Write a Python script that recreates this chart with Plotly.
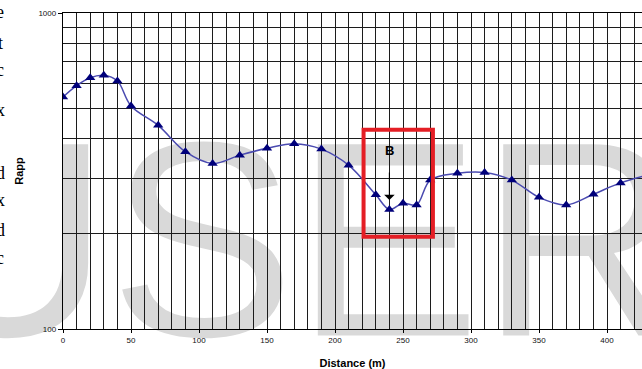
import math
import plotly.graph_objects as go

# ---- data ----
distance = [0, 10, 20, 30, 40, 50, 70, 90, 110, 130, 150, 170, 190, 210, 230, 240,
            250, 260, 270, 290, 310, 330, 350, 370, 390, 410, 430]
rapp = [542, 589, 624, 635, 609, 508, 441, 364, 334, 355, 373, 386, 371, 330, 266, 239,
        250, 247, 296, 311, 313, 296, 261, 247, 267, 290, 307]

x_tick_vals = [0, 50, 100, 150, 200, 250, 300, 350, 400]
y_tick_vals = [100, 1000]
y_tick_text = ["100", "1000"]
y_minor_vals = [200, 300, 400, 500, 600, 700, 800, 900]

# highlight box and marker "B"
box_x = [221, 272]
box_y = [196, 427]
label_b = "B"
label_b_pos = (240, 366)
arrow_to = (240, 256)

watermark_text = "USER"
side_letters = ["e", "t", "c", "x", "d", "x", "d", "c"]
side_letter_y = [12, 43, 70, 110, 173, 200, 230, 258]

W, H = 642, 369
ML, MR, MT, MB = 63, 0, 13, 40
PW, PH = W - ML - MR, H - MT - MB

GRID = "#1c1c1c"

fig = go.Figure()

# watermark (subplot drawn first so the chart grid is above it)
fig.add_trace(go.Scatter(
    x=[295], y=[266], mode="text", text=[watermark_text],
    textposition="middle center",
    textfont=dict(family="Liberation Sans, Arial", size=278, color="#d9d9d9"),
    cliponaxis=False, hoverinfo="skip", showlegend=False,
    xaxis="x", yaxis="y"))

# main data
fig.add_trace(go.Scatter(
    x=distance, y=rapp, mode="lines+markers",
    line=dict(color="#4a4ab0", width=1.5, shape="spline", smoothing=1),
    marker=dict(symbol="triangle-up", size=9, color="#00007a"),
    cliponaxis=True, showlegend=False, xaxis="x2", yaxis="y2"))

fig.update_layout(
    width=W, height=H,
    margin=dict(l=ML, r=MR, t=MT, b=MB),
    paper_bgcolor="white", plot_bgcolor="rgba(0,0,0,0)",
    showlegend=False,
    xaxis=dict(domain=[0, 1], range=[ML, W - MR], visible=False, fixedrange=True),
    yaxis=dict(domain=[0, 1], range=[MT + PH, MT], visible=False, fixedrange=True),
    xaxis2=dict(
        domain=[0, 1], anchor="y2", range=[0, (W - ML) / 1.36],
        tickvals=x_tick_vals, showgrid=True, gridcolor=GRID, gridwidth=1.4,
        minor=dict(dtick=10, tick0=0, showgrid=True, gridcolor=GRID, gridwidth=1.4, ticks=""),
        showline=True, linecolor="black", linewidth=1.4, mirror=True,
        ticks="outside", ticklen=3, tickcolor="black",
        tickfont=dict(family="Liberation Sans, Arial", size=8, color="#111"),
        zeroline=False,
        title=dict(text="Distance (m)", standoff=15,
                   font=dict(family="Liberation Sans, Arial", size=11, color="black", weight="bold")),
    ),
    yaxis2=dict(
        domain=[0, 1], anchor="x2", type="log", range=[2, 3],
        tickvals=y_tick_vals, ticktext=y_tick_text,
        showgrid=True, gridcolor=GRID, gridwidth=1.4,
        minor=dict(tickvals=y_minor_vals, showgrid=True, gridcolor=GRID, gridwidth=1.4, ticks=""),
        showline=True, linecolor="black", linewidth=1.4,
        ticks="outside", ticklen=4, tickcolor="black",
        tickfont=dict(family="Liberation Sans, Arial", size=8, color="#111"),
        zeroline=False,
        title=dict(text="Rapp", standoff=12,
                   font=dict(family="Liberation Sans, Arial", size=11, color="black", weight="bold")),
    ),
)

fig.add_shape(type="rect", xref="x2", yref="y2",
              x0=box_x[0], x1=box_x[1], y0=box_y[0], y1=box_y[1],
              line=dict(color="#e41e25", width=4), layer="above")

fig.add_annotation(x=label_b_pos[0], y=math.log10(label_b_pos[1]), xref="x2", yref="y2",
                   text=label_b, showarrow=False,
                   font=dict(family="Liberation Sans, Arial", size=13, color="black", weight="bold"))
fig.add_annotation(x=arrow_to[0], y=math.log10(arrow_to[1]), xref="x2", yref="y2",
                   ax=0, ay=-29, text="", showarrow=True, arrowhead=1, arrowsize=1.6,
                   arrowwidth=1.1, arrowcolor="black")

for ch, py in zip(side_letters, side_letter_y):
    fig.add_annotation(xref="paper", yref="paper",
                       x=(0 - ML) / PW, y=(MT + PH - py) / PH,
                       text=ch, showarrow=False, xanchor="center", yanchor="middle",
                       font=dict(family="Liberation Serif, Times New Roman", size=18, color="black"))

fig.write_html("out.html")
